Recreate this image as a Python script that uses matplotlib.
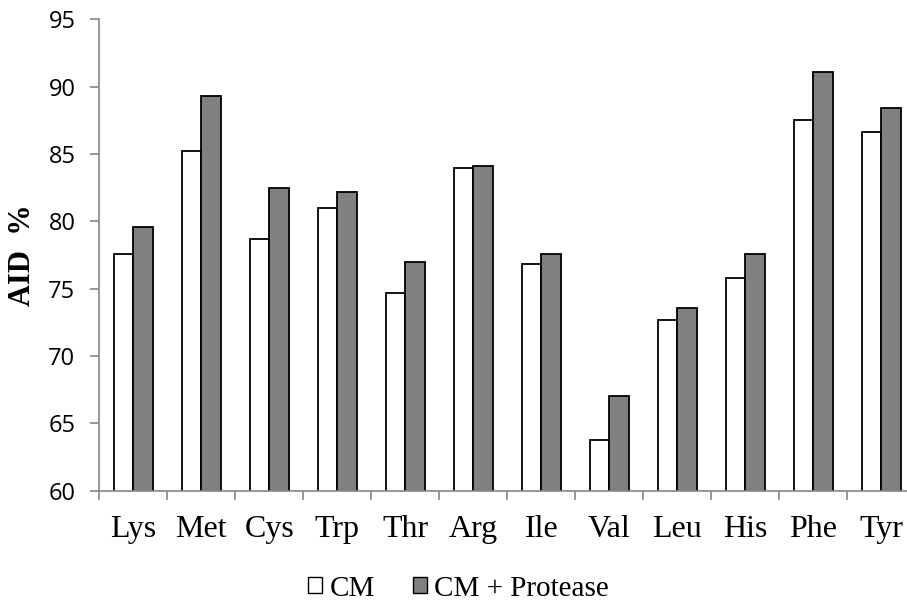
import matplotlib.pyplot as plt
from matplotlib.patches import Patch
import numpy as np

# amino acids and apparent ileal digestibility (%)
amino_acids = ["Lys", "Met", "Cys", "Trp", "Thr", "Arg", "Ile", "Val", "Leu", "His", "Phe", "Tyr"]
cm = [77.55, 85.25, 78.7, 81.0, 74.7, 83.95, 76.85, 63.8, 72.7, 75.8, 87.5, 86.6]
cm_protease = [79.6, 89.3, 82.5, 82.2, 77.0, 84.1, 77.6, 67.0, 73.6, 77.6, 91.1, 88.4]
y_ticks = [60, 65, 70, 75, 80, 85, 90, 95]

SERIF = "Liberation Serif"
AXIS_GREY = "#868686"

fig = plt.figure(figsize=(9.07, 6.03), dpi=100)
ax = fig.add_axes([0.1095, 0.1862, 0.8997, 0.7818])

x = np.arange(len(amino_acids))
w = 0.287
ax.bar(x - w / 2, cm, width=w, color="white", edgecolor="black", linewidth=1.3, label="CM")
ax.bar(x + w / 2, cm_protease, width=w, color="#808080", edgecolor="black", linewidth=1.3,
       label="CM + Protease")

ax.set_xlim(-0.5, len(amino_acids) - 0.5)
ax.set_ylim(60, 95)
ax.set_yticks(y_ticks)
ax.set_yticklabels([str(v) for v in y_ticks], family="Open Sans", fontsize=17)

# category labels at centres, boundary tick marks as minor ticks
ax.set_xticks(x)
ax.set_xticklabels(amino_acids, family=SERIF, fontsize=23)
ax.set_xticks(np.arange(len(amino_acids) + 1) - 0.5, minor=True)
ax.tick_params(axis="x", which="major", length=0, pad=17.5)
ax.tick_params(axis="x", which="minor", length=6.2, width=1.2, color=AXIS_GREY, direction="out")
ax.tick_params(axis="y", length=6.2, width=1.2, color=AXIS_GREY, direction="out", pad=11)

for side in ["top", "right"]:
    ax.spines[side].set_visible(False)
for side in ["left", "bottom"]:
    ax.spines[side].set_color(AXIS_GREY)
    ax.spines[side].set_linewidth(1.2)

fig.text(22.5 / 907, 1 - 255 / 603, "AID  %", family=SERIF, fontsize=22, fontweight="bold",
         rotation=90, ha="center", va="center")

handles = [Patch(facecolor="white", edgecolor="black", linewidth=1.0, label="CM"),
           Patch(facecolor="#808080", edgecolor="black", linewidth=1.0, label="CM + Protease")]
fig.legend(handles=handles, loc="center", bbox_to_anchor=(0.5055, 0.024), ncol=2, frameon=False,
           prop={"family": SERIF, "size": 21}, handlelength=0.48, handleheight=0.48,
           handletextpad=0.25, columnspacing=1.3)

fig.savefig("out.png", dpi=100)
